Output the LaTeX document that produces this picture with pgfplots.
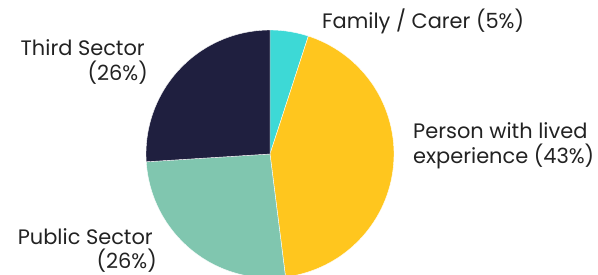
\documentclass[border=0pt]{standalone}
\usepackage{pgfplots}
\pgfplotsset{compat=1.18}
\usepackage{fontspec}
\setmainfont{Poppins}
\definecolor{cFam}{HTML}{3DD9D6}
\definecolor{cLived}{HTML}{FFC61E}
\definecolor{cPub}{HTML}{80C6AF}
\definecolor{cThird}{HTML}{1F1F3F}
\definecolor{txt}{HTML}{222222}
% shares in percent
\def\vFam{5}
\def\vLived{43}
\def\vPub{26}
\def\vThird{26}
\begin{document}
\begin{tikzpicture}
\begin{axis}[scale only axis, width=598bp, height=275bp,
  xmin=0, xmax=598, ymin=0, ymax=275, y dir=reverse,
  hide axis, clip=true]
\pgfmathsetmacro{\aA}{90}
\pgfmathsetmacro{\aB}{\aA-3.6*\vFam}
\pgfmathsetmacro{\aC}{\aB-3.6*\vLived}
\pgfmathsetmacro{\aD}{\aC-3.6*\vPub}
\pgfmathsetmacro{\aE}{\aD-3.6*\vThird}
\addplot[fill=cFam, draw=white, line width=0.4bp, domain=\aB:\aA, samples=20, variable=\t]
  ({270+124*cos(t)},{154-124*sin(t)}) -- (axis cs:270,154) -- cycle;
\addplot[fill=cLived, draw=white, line width=0.4bp, domain=\aC:\aB, samples=80, variable=\t]
  ({270+124*cos(t)},{154-124*sin(t)}) -- (axis cs:270,154) -- cycle;
\addplot[fill=cPub, draw=white, line width=0.4bp, domain=\aD:\aC, samples=60, variable=\t]
  ({270+124*cos(t)},{154-124*sin(t)}) -- (axis cs:270,154) -- cycle;
\addplot[fill=cThird, draw=white, line width=0.4bp, domain=\aE:\aD, samples=60, variable=\t]
  ({270+124*cos(t)},{154-124*sin(t)}) -- (axis cs:270,154) -- cycle;
\tikzset{lbl/.style={font=\fontsize{21}{25}\selectfont, text=txt, inner sep=0pt}}
\node[lbl, anchor=base west] at (axis cs:322,29) {Family / Carer (5\%)};
\node[lbl, anchor=base west] at (axis cs:413,138) {Person with lived};
\node[lbl, anchor=base west] at (axis cs:413,163) {experience (43\%)};
\node[lbl, anchor=base east] at (axis cs:145,55) {Third Sector};
\node[lbl, anchor=base east] at (axis cs:148,80) {(26\%)};
\node[lbl, anchor=base east] at (axis cs:153,244) {Public Sector};
\node[lbl, anchor=base east] at (axis cs:157,268) {(26\%)};
\end{axis}
\pgfresetboundingbox
\useasboundingbox (current axis.south west) rectangle (current axis.north east);
\end{tikzpicture}
\end{document}
